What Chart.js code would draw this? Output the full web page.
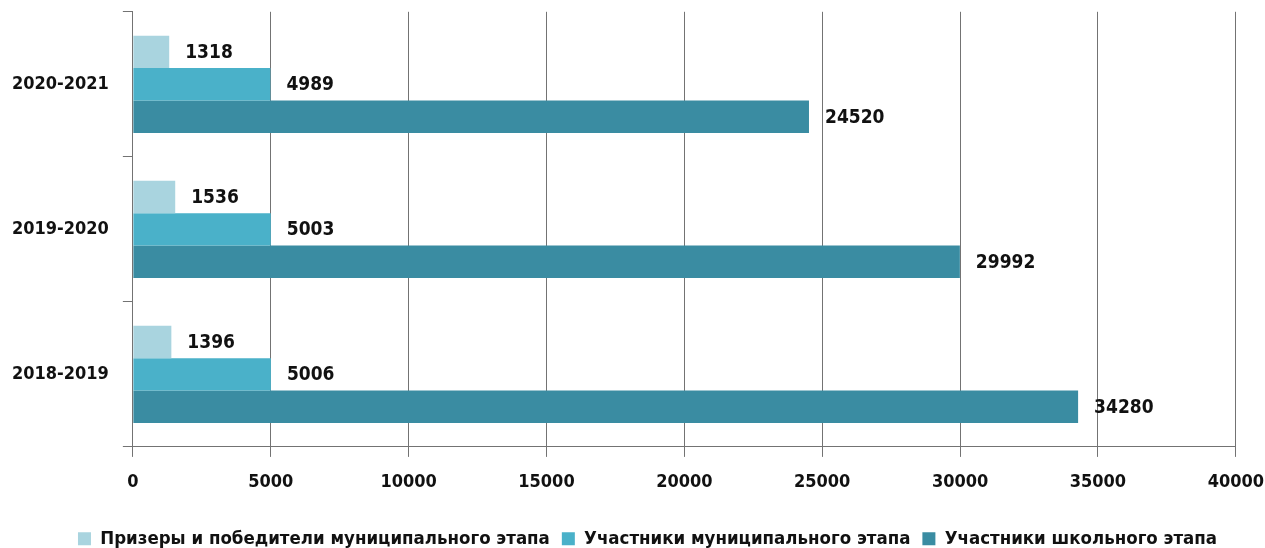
<!DOCTYPE html>
<html>
<head>
<meta charset="utf-8">
<script src="https://cdn.jsdelivr.net/npm/chart.js@4"></script>
<style>
  html, body { margin: 0; padding: 0; background: #fff; }
  #outer { width: 1265px; height: 548px; overflow: hidden; position: relative; }
  #wrap { width: 1279px; height: 561px; position: absolute; left: 0; top: -13px; }
</style>
</head>
<body>
<div id="outer"><div id="wrap"><canvas id="myChart"></canvas></div></div>
<script>
const years = ["2020-2021", "2019-2020", "2018-2019"];
const prizers = [1318, 1536, 1396];
const municipal = [4989, 5003, 5006];
const school = [24520, 29992, 34280];
const seriesNames = [
  "Призеры и победители муниципального этапа",
  "Участники муниципального этапа",
  "Участники школьного этапа"
];
const xTicks = [0, 5000, 10000, 15000, 20000, 25000, 30000, 35000, 40000];

const fontFam = '"Liberation Sans Narrow", "DejaVu Sans Condensed", sans-serif';

// подписи значений справа от столбцов
const valueLabels = {
  id: "valueLabels",
  afterLayout(chart) {
    // легенда в оригинале немного смещена вправо
    chart.legend.left += 10;
    chart.legend.right += 10;
  },
  afterDatasetsDraw(chart) {
    const ctx = chart.ctx;
    ctx.save();
    ctx.font = "bold 19px " + fontFam;
    ctx.fillStyle = "#111";
    ctx.textAlign = "left";
    ctx.textBaseline = "middle";
    chart.data.datasets.forEach((ds, i) => {
      chart.getDatasetMeta(i).data.forEach((bar, j) => {
        ctx.fillText(String(ds.data[j]), bar.x + 16, bar.y + 1);
      });
    });
    ctx.restore();
  }
};

const ctx = document.getElementById("myChart").getContext("2d");
const myChart = new Chart(ctx, {
  type: "bar",
  data: {
    labels: years,
    datasets: [
      { label: seriesNames[0], data: prizers, backgroundColor: "#a9d4df" },
      { label: seriesNames[1], data: municipal, backgroundColor: "#4ab1c9" },
      { label: seriesNames[2], data: school, backgroundColor: "#3a8ca2" }
    ]
  },
  options: {
    indexAxis: "y",
    responsive: true,
    maintainAspectRatio: false,
    animation: false,
    categoryPercentage: 0.67,
    barPercentage: 1,
    layout: { padding: { top: 0, right: 2, left: -2, bottom: -10 } },
    scales: {
      x: {
        min: 0,
        max: 40000,
        afterBuildTicks(axis) {
          axis.ticks = xTicks.map((v) => ({ value: v }));
        },
        afterFit(axis) {
          axis.height += 9;
        },
        grid: { color: "#737373", lineWidth: 1, tickLength: 10 },
        border: { color: "#737373" },
        ticks: {
          color: "#111",
          padding: 15,
          maxRotation: 0,
          callback: (v) => String(v),
          font: { family: fontFam, size: 18, weight: "bold" }
        }
      },
      y: {
        grid: { drawOnChartArea: false, color: "#737373", tickLength: 10, offset: true },
        border: { color: "#737373" },
        ticks: {
          color: "#111",
          padding: 14,
          font: { family: fontFam, size: 18, weight: "bold" }
        }
      }
    },
    plugins: {
      legend: {
        position: "bottom",
        labels: {
          boxWidth: 13,
          boxHeight: 13,
          padding: 12,
          color: "#111",
          font: { family: fontFam, size: 18.5, weight: "bold" }
        }
      },
      tooltip: { enabled: false }
    }
  },
  plugins: [valueLabels]
});
</script>
</body>
</html>
